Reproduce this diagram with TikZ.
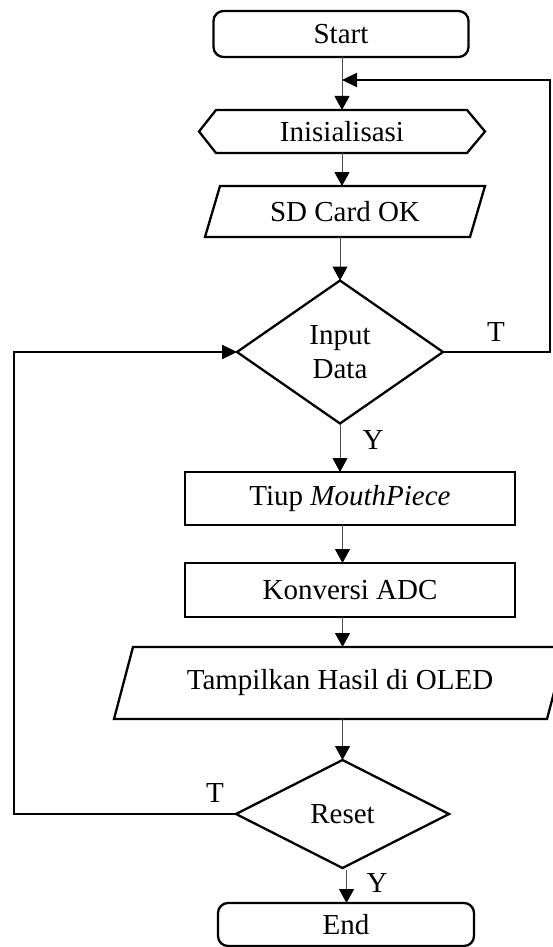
\documentclass[tikz,border=0pt]{standalone}
\usepackage{fontspec}
\setmainfont{Liberation Serif}
\usetikzlibrary{arrows.meta,shapes.geometric}
\begin{document}
\begin{tikzpicture}[x=1pt,y=-1pt,
  every node/.style={font=\fontsize{29}{34}\selectfont, inner sep=0pt, outer sep=0pt},
  shapeline/.style={line width=2.3pt, black},
  term/.style={shapeline, draw, rounded corners=10pt},
  procbox/.style={shapeline, draw, rectangle},
  decide/.style={shapeline, draw, diamond, align=center},
  conn/.style={line width=1pt, draw=black!70, -{Triangle[length=14pt,width=15pt,color=black]}},
  looparrow/.style={line width=2.3pt, black, -{Triangle[length=15pt,width=14pt]}},
  lbl/.style={}
]
\useasboundingbox (0,0) rectangle (552,947);
% nodes
\node[term, minimum width=255pt, minimum height=46pt] (start) at (341,34) {Start};
\node[minimum width=286pt, minimum height=43pt] (init) at (342,131.5) {Inisialisasi};
\draw[shapeline] ([xshift=17pt]init.north west) -- ([xshift=-18pt]init.north east) -- (init.east)
  -- ([xshift=-18pt]init.south east) -- ([xshift=17pt]init.south west) -- (init.west) -- cycle;
\node[minimum width=265pt, minimum height=51pt] (sd) at (345,211.5) {SD Card OK};
\draw[shapeline] ([xshift=7.5pt]sd.north west) -- ([xshift=7.5pt]sd.north east)
  -- ([xshift=-7.5pt]sd.south east) -- ([xshift=-7.5pt]sd.south west) -- cycle;
\node[decide, minimum width=206pt, minimum height=143pt] (input) at (340,352) {Input\\Data};
\node[procbox, minimum width=330pt, minimum height=53pt] (tiup) at (350,498.5) {Tiup \textit{MouthPiece}};
\node[procbox, minimum width=330pt, minimum height=54pt] (konv) at (350,590) {Konversi ADC};
\node[minimum width=433pt, minimum height=72pt] (tamp) at (340,683) {Tampilkan Hasil di OLED};
\draw[shapeline] ([xshift=9.5pt]tamp.north west) -- ([xshift=9.5pt]tamp.north east)
  -- ([xshift=-9.5pt]tamp.south east) -- ([xshift=-9.5pt]tamp.south west) -- cycle;
\node[decide, minimum width=213pt, minimum height=108pt] (reset) at (342.5,814) {Reset};
\node[term, minimum width=256pt, minimum height=43pt] (end) at (346,924.5) {End};
% labels
\node[lbl] (t1) at (496,332) {T};
\node[lbl] (y1) at (373,440) {Y};
\node[lbl] (t2) at (215,793) {T};
\node[lbl] (y2) at (377,883) {Y};
% connectors
\coordinate (j1) at (342,80);
\coordinate (rc) at (550,80);
\coordinate (lc) at (14,600);
\draw[conn] (start.south -| init.north) -- (init.north);
\draw[conn] (init.south) -- (init.south |- sd.north);
\draw[conn] (sd.south -| input.north) -- (input.north);
\draw[conn] (input.south) -- (input.south |- tiup.north);
\draw[conn] (tiup.south -| reset.north) -- (konv.north -| reset.north);
\draw[conn] (konv.south -| reset.north) -- (tamp.north -| reset.north);
\draw[conn] (tamp.south -| reset.north) -- (reset.north);
\draw[conn] (reset.south) ++(4,2) coordinate (rb) -- (rb |- end.north);
\draw[looparrow] (input.east) -| (rc) -- (j1);
\draw[looparrow] (reset.west) -| (lc) |- (input.west);
\end{tikzpicture}
\end{document}
